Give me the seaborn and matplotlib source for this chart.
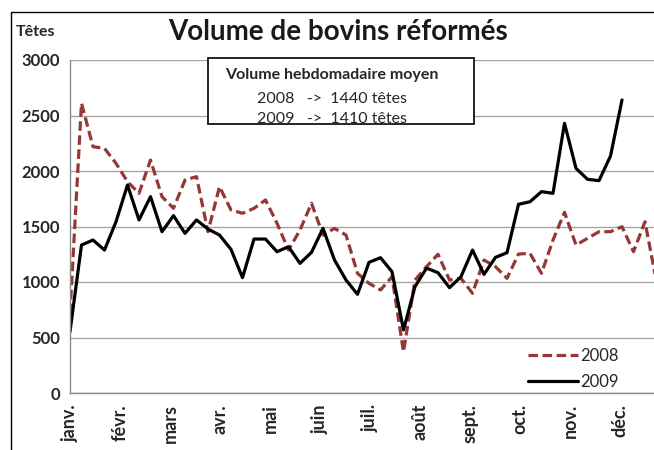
import numpy as np
import pandas as pd
import seaborn as sns
import matplotlib.pyplot as plt
from matplotlib.patches import Rectangle

# weekly volumes (heads)
vol_2008 = [718, 2610, 2219, 2204, 2069, 1904, 1799, 2099, 1769, 1664,
            1919, 1949, 1453, 1859, 1649, 1619, 1664, 1739, 1529, 1288,
            1468, 1709, 1423, 1483, 1423, 1078, 988, 928, 1048, 372,
            1018, 1138, 1250, 1018, 1033, 898, 1198, 1138, 1033, 1252,
            1258, 1078, 1378, 1628, 1333, 1393, 1453, 1453, 1498, 1273,
            1543, 1000]
vol_2009 = [552, 1333, 1378, 1288, 1543, 1874, 1559, 1769, 1453, 1598,
            1438, 1559, 1477, 1423, 1294, 1039, 1387, 1387, 1273, 1318,
            1168, 1267, 1483, 1198, 1018, 889, 1177, 1219, 1093, 568,
            958, 1125, 1084, 949, 1048, 1288, 1069, 1222, 1264, 1700,
            1723, 1814, 1799, 2430, 2024, 1925, 1913, 2135, 2640]
months = ['janv.', 'févr.', 'mars', 'avr.', 'mai', 'juin', 'juil.',
          'août', 'sept.', 'oct.', 'nov.', 'déc.']
years = ['2008', '2009']

df = pd.concat([
    pd.DataFrame({'semaine': range(len(vol_2008)), 'tetes': vol_2008, 'annee': '2008'}),
    pd.DataFrame({'semaine': range(len(vol_2009)), 'tetes': vol_2009, 'annee': '2009'}),
])

sns.set_style('white')
plt.rcParams['font.family'] = ['Lato', 'DejaVu Sans']

fig = plt.figure(figsize=(6.54, 4.5), dpi=100)
ax = fig.add_axes([70 / 654, 57 / 450, 584 / 654, 333 / 450])

sns.lineplot(data=df, x='semaine', y='tetes', hue='annee', style='annee',
             palette={'2008': '#953735', '2009': 'black'},
             dashes={'2008': (3, 1.4), '2009': ''},
             linewidth=2.3, ax=ax)

ax.set_ylim(0, 3000)
ax.set_xlim(0, 584 / 11.5)
ax.set_yticks(range(0, 3001, 500))
ax.set_yticklabels([str(v) for v in range(0, 3001, 500)], fontweight='bold', fontsize=12)
week_per_month = 365.25 / 12 / 7
ax.set_xticks([i * week_per_month for i in range(12)])
ax.set_xticklabels(months, rotation=90, fontweight='bold', fontsize=13, va='top')
ax.tick_params(axis='x', length=0, pad=8)
ax.tick_params(axis='y', length=0, pad=7)
ax.yaxis.grid(True, color='#a6a6a6', linewidth=1)
ax.set_xlabel('')
ax.set_ylabel('')
for side in ['top', 'right']:
    ax.spines[side].set_visible(False)
for side in ['left', 'bottom']:
    ax.spines[side].set_color('#8c8c8c')
    ax.spines[side].set_linewidth(1)

leg = ax.legend(loc='lower right', bbox_to_anchor=(0.965, -0.035), frameon=False,
                fontsize=12, handlelength=3.0, handletextpad=0.1, labelspacing=0.6)

fig.text(338 / 654, 1 - 32 / 450, 'Volume de bovins réformés', ha='center', va='center',
         fontsize=20, fontweight='bold', color='#1a1a1a')
fig.text(16 / 654, 1 - 32 / 450, 'Têtes', ha='left', va='center',
         fontsize=11.5, fontweight='bold')

# box with the average weekly volume
fig.patches.append(Rectangle((208 / 654, 1 - 124 / 450), 266 / 654, 66 / 450,
                             transform=fig.transFigure, fill=True, facecolor='white',
                             edgecolor='black', linewidth=1.2, zorder=5))
fig.text(332 / 654, 1 - 75 / 450, 'Volume hebdomadaire moyen', ha='center', va='center',
         fontsize=11.5, fontweight='bold', zorder=6)
fig.text(332 / 654, 1 - 99 / 450, '2008   ->  1440 têtes', ha='center', va='center',
         fontsize=11.5, zorder=6)
fig.text(332 / 654, 1 - 119 / 450, '2009   ->  1410 têtes', ha='center', va='center',
         fontsize=11.5, zorder=6)

# outer chart frame
fig.patches.append(Rectangle((11 / 654, -0.05), 1, 1 - 12 / 450 + 0.05,
                             transform=fig.transFigure, fill=False,
                             edgecolor='black', linewidth=1))

fig.savefig('out.png', dpi=100)
